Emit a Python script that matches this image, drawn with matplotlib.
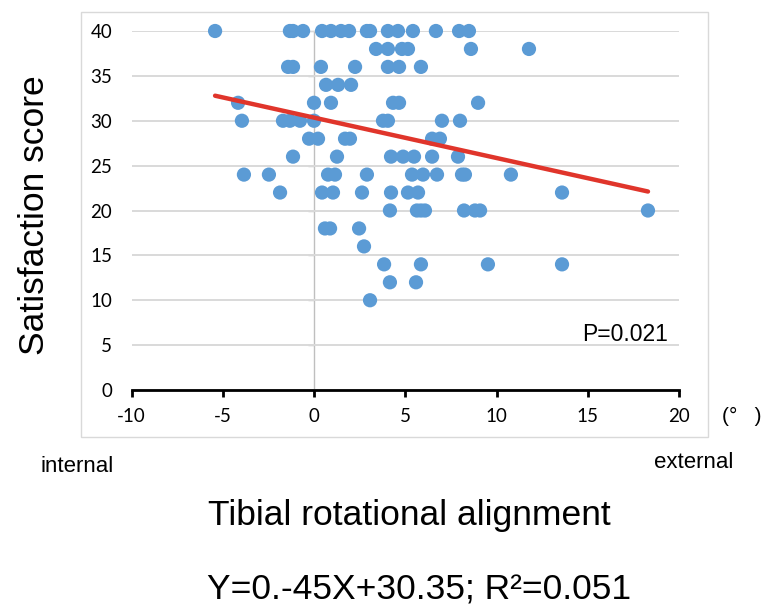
import matplotlib
matplotlib.use("Agg")
import matplotlib.pyplot as plt
from matplotlib.patches import Rectangle
import numpy as np

plt.rcParams['font.family'] = ['Liberation Sans', 'DejaVu Sans']
plt.rcParams['axes.unicode_minus'] = False

# Tibial rotational alignment (deg) and satisfaction score
tra = [-5.42, -1.32, -1.15, -0.60, 0.44, 0.93, 1.48, 1.92, 2.90, 3.07, 4.05, 4.60, 5.42, 6.68, 7.95, 8.49,
       3.40, 4.05, 4.82, 5.15, 8.60, 11.78,
       -1.42, -1.15, 0.38, 2.25, 4.05, 4.66, 5.86,
       0.66, 1.32, 2.03,
       -4.16, 0.0, 0.93, 4.33, 4.66, 8.99,
       -3.95, -1.70, -1.32, -0.77, 0.0, 3.78, 4.05, 7.01, 8.0,
       -0.27, 0.22, 1.70, 1.97, 6.47, 6.90,
       -1.15, 1.26, 4.22, 4.88, 5.48, 6.47, 7.89,
       -3.84, -2.47, 0.77, 1.15, 2.90, 5.37, 5.97, 6.74, 8.11, 8.27, 10.79,
       -1.86, 0.44, 1.04, 2.63, 4.22, 5.15, 5.70, 13.59,
       4.16, 5.64, 5.86, 6.08, 8.22, 8.82, 9.10, 18.30,
       0.60, 0.88, 2.47,
       2.74,
       3.84, 5.86, 9.53, 13.59,
       4.16, 5.59,
       3.07]
score = [40]*16 + [38]*6 + [36]*7 + [34]*3 + [32]*6 + [30]*9 + [28]*6 + [26]*7 + \
        [24]*11 + [22]*8 + [20]*8 + [18]*3 + [16]*1 + [14]*4 + [12]*2 + [10]*1

slope = -0.45
intercept = 30.35
xticks = [-10, -5, 0, 5, 10, 15, 20]
yticks = [0, 5, 10, 15, 20, 25, 30, 35, 40]

W, H = 769, 608
fig = plt.figure(figsize=(W/100, H/100), dpi=100)
fig.patch.set_facecolor('white')

def fx(px):
    return px / W
def fy(py):
    return 1 - py / H

ax = fig.add_axes([fx(131.5), fy(390), fx(679) - fx(131.5), fy(31) - fy(390)])
ax.set_xlim(-10, 20)
ax.set_ylim(0, 40)
ax.set_xticks(xticks)
ax.set_yticks(yticks)

for s in ['top', 'right', 'left']:
    ax.spines[s].set_visible(False)
ax.spines['bottom'].set_linewidth(2)
ax.spines['bottom'].set_color('black')
ax.spines['bottom'].set_zorder(5)

ax.yaxis.grid(True, color='#d9d9d9', linewidth=1.4)
ax.set_axisbelow(True)
ax.tick_params(axis='y', length=0, pad=14, labelsize=13.5, labelfontfamily='Lato')
ax.tick_params(axis='x', direction='out', length=5, width=2, color='black', pad=8,
               labelsize=13.5, labelfontfamily='Lato')

# vertical axis crossing at x=0
sec = ax.secondary_yaxis(1/3)
sec.set_yticks(yticks)
sec.tick_params(axis='y', length=4, width=1, color='#bfbfbf', labelleft=False, labelright=False)
sec.spines['left'].set_color('#bfbfbf')
sec.spines['left'].set_linewidth(1)
for s in ['right', 'top', 'bottom']:
    sec.spines[s].set_visible(False)

ax.scatter(tra, score, s=105, color='#5b9bd5', edgecolors='none', zorder=3, clip_on=False)

xl = np.array([min(tra), max(tra)])
ax.plot(xl, slope * xl + intercept, color='#e0352b', linewidth=3.2, zorder=4,
        solid_capstyle='round', clip_on=False)

ax.text(0.979, 0.155, 'P=0.021', transform=ax.transAxes, ha='right', va='center', fontsize=16.5)

fig.patches.append(Rectangle((fx(81), fy(437)), fx(708) - fx(81), fy(12) - fy(437),
                             transform=fig.transFigure, fill=False, edgecolor='#d9d9d9', linewidth=1))

fig.text(fx(35), fy(215), 'Satisfaction score', rotation=90, ha='center', va='center', fontsize=25.5)
fig.text(fx(742), fy(416), '(°   )', ha='center', va='center', fontsize=15)
fig.text(fx(77), fy(466), 'internal', ha='center', va='center', fontsize=16)
fig.text(fx(694), fy(463), 'external', ha='center', va='center', fontsize=16)
fig.text(fx(409), fy(516), 'Tibial rotational alignment', ha='center', va='center', fontsize=25.5)
fig.text(fx(419), fy(590), 'Y=0.-45X+30.35; R²=0.051', ha='center', va='center', fontsize=25.5)

fig.savefig('out.png', dpi=100, facecolor='white')
